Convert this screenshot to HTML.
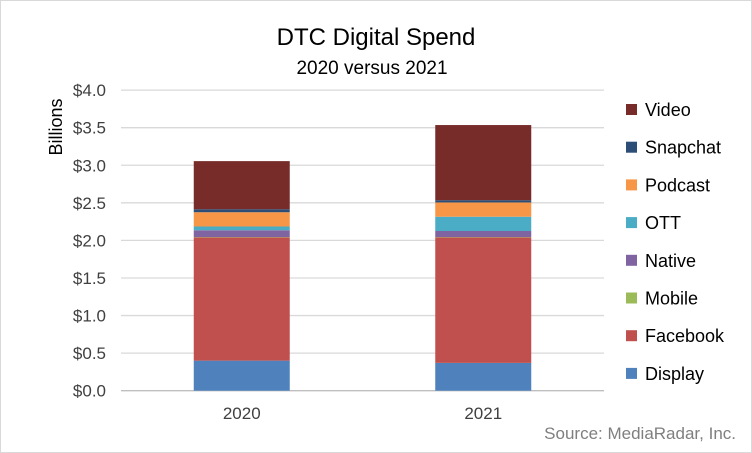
<!DOCTYPE html>
<html><head><meta charset="utf-8"><style>
body{margin:0;background:#fff}
svg{display:block;font-family:"Liberation Sans",Calibri,sans-serif}
</style></head><body>
<svg width="752" height="453">
<rect x="0.5" y="0.5" width="751" height="452" fill="#fff" stroke="#d9d9d9"/>
<text x="376" y="45" font-size="24" text-anchor="middle" fill="#000">DTC Digital Spend</text>
<text x="372" y="74" font-size="19" text-anchor="middle" fill="#000">2020 versus 2021</text>
<text transform="translate(62,127) rotate(-90)" font-size="18" text-anchor="middle">Billions</text>
<text x="736" y="439" font-size="17" text-anchor="end" fill="#7f7f7f">Source: MediaRadar, Inc.</text>
<g id="grid"></g><g id="bars"></g><g id="legend"></g>
</svg>
<script>
const categories=["2020","2021"];
const seriesNames=["Display","Facebook","Mobile","Native","OTT","Podcast","Snapchat","Video"];
const colors=["#4f81bd","#c0504d","#9bbb59","#8064a2","#4bacc6","#f79646","#2c4d75","#772c2a"];
const display=[0.40,0.37];
const facebook=[1.64,1.67];
const mobile=[0.005,0.005];
const native=[0.09,0.08];
const ott=[0.05,0.19];
const podcast=[0.19,0.19];
const snapchat=[0.04,0.03];
const video=[0.64,1.00];
const tickLabels=["$0.0","$0.5","$1.0","$1.5","$2.0","$2.5","$3.0","$3.5","$4.0"];
const tickValues=[0,0.5,1,1.5,2,2.5,3,3.5,4];
const series=[display,facebook,mobile,native,ott,podcast,snapchat,video];
const NS="http://www.w3.org/2000/svg";
const y0=390.7,pxPer=75.15,xL=121,xR=604,barW=96;
const y=v=>y0-v*pxPer;
const xc=i=>xL+(xR-xL)/categories.length*(i+0.5);
function mk(t,a,p){const e=document.createElementNS(NS,t);for(const k in a)e.setAttribute(k,a[k]);p.appendChild(e);return e;}
const grid=document.getElementById('grid');
tickValues.forEach((v,i)=>{
 if(v>0){const l=mk('line',{x1:xL,x2:xR,y1:y(v),y2:y(v),stroke:'#d9d9d9','stroke-width':1.3},grid);
 
 }
 const t=mk('text',{x:106,y:y(v)+6,'font-size':17,'text-anchor':'end',fill:'#404040'},grid);t.textContent=tickLabels[i];
 
 
});
const ax=mk('line',{x1:xL,x2:xR,y1:y0,y2:y0,stroke:'#bfbfbf','stroke-width':1.3},grid);


const bars=document.getElementById('bars');
categories.forEach((c,i)=>{
 let acc=0;
 series.forEach((s,j)=>{
  const r=mk('rect',{x:xc(i)-barW/2,y:y(acc+s[i]),width:barW,height:s[i]*pxPer,fill:colors[j]},bars);
  
  
  acc+=s[i];
 });
 const t=mk('text',{x:xc(i),y:419,'font-size':17,'text-anchor':'middle',fill:'#404040'},bars);t.textContent=c;
 
 
});
const lg=document.getElementById('legend');
seriesNames.forEach((n,j)=>{
 const k=seriesNames.length-1-j;
 const yy=109+k*37.7;
 const g=mk('g',{},lg);
 
 
 mk('rect',{x:626,y:yy-5,width:11,height:11,fill:colors[j]},g);
 const t=mk('text',{x:645,y:yy+7,'font-size':18,fill:'#000'},g);t.textContent=n;
});
</script>
</body></html>
